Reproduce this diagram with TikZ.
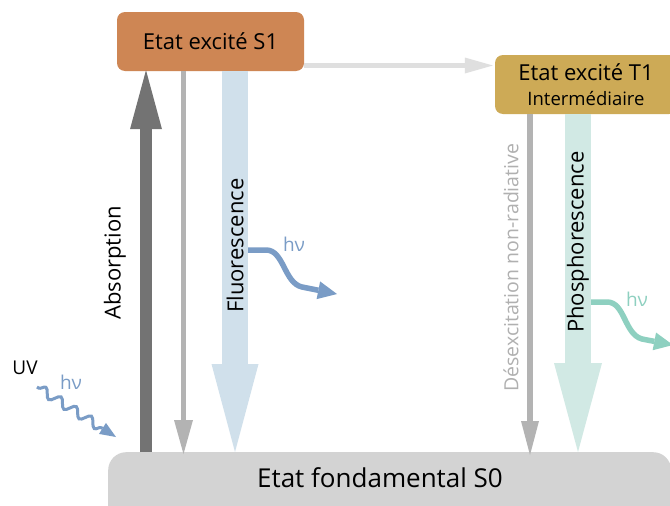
\documentclass[tikz,border=0pt]{standalone}
\usepackage{fontspec}
\setmainfont{Open Sans}
\usetikzlibrary{arrows.meta,decorations.pathmorphing}
\definecolor{sorange}{HTML}{CE8654}
\definecolor{tgold}{HTML}{CDAA56}
\definecolor{sgrey}{HTML}{D3D3D3}
\definecolor{absgrey}{HTML}{737373}
\definecolor{midgrey}{HTML}{B3B3B3}
\definecolor{lightgrey}{HTML}{DFDFDF}
\definecolor{fluoblue}{HTML}{D0E0EB}
\definecolor{phosteal}{HTML}{D1E9E4}
\definecolor{hvblue}{HTML}{7A9CC6}
\definecolor{hvteal}{HTML}{8ED0C0}
\definecolor{nrgrey}{HTML}{B0B0B0}
\tikzset{
  statebox/.style={rounded corners=8pt, inner sep=0pt, text=black},
  vlabel/.style={rotate=90, inner sep=0pt, font=\fontsize{22}{26}\selectfont},
  hvlabel/.style={inner sep=0pt, font=\fontsize{19}{22}\selectfont},
  photon/.style={line width=5.5pt, -{Triangle[length=19pt,width=18pt,line width=0pt]}}
}
\begin{document}
\begin{tikzpicture}[x=1pt,y=-1pt]
\clip (0,0) rectangle (670,506);
\fill[white] (0,0) rectangle (670,506);
% states
\node[statebox, fill=sorange, minimum width=187, minimum height=59,
      font=\fontsize{22}{26}\selectfont] (s1) at (210.5,41.5) {Etat excité S1};
\node[statebox, fill=tgold, minimum width=182, minimum height=59, align=center,
      font=\fontsize{22}{25}\selectfont]
      (t1) at (586,84.5) {Etat excité T1\\{\fontsize{18.5}{25}\selectfont Intermédiaire}};
\node[rounded corners=18pt, fill=sgrey, minimum width=563, minimum height=100,
      anchor=north west, inner sep=0pt] (s0) at (108,452) {};
\node[inner sep=0pt, font=\fontsize{26}{30}\selectfont] (s0label) at (380,478) {Etat fondamental S0};
% x positions of the vertical connectors
\coordinate (xa) at (146,0);
\coordinate (xg) at (183.5,0);
\coordinate (xf) at (235,0);
\coordinate (xn) at (530,0);
\coordinate (xp) at (578,0);
\coordinate (yh) at (0,65.5);
% S1 -> T1
\draw[lightgrey, line width=5pt, -{Triangle[length=28pt,width=16pt,line width=0pt]}]
  (s1.east |- yh) -- ([xshift=-2pt]t1.west |- yh);
% absorption
\draw[absgrey, line width=12pt, -{Triangle[length=59pt,width=32pt,line width=0pt]}]
  (xa |- s0.north) -- ([yshift=1pt]xa |- s1.south);
% non radiative S1 -> S0
\draw[midgrey, line width=5pt, -{Triangle[length=34pt,width=19pt,line width=0pt]}]
  (xg |- s1.south) -- ([yshift=-2pt]xg |- s0.north);
% fluorescence
\draw[fluoblue, line width=26pt, -{Triangle[length=88pt,width=47pt,line width=0pt]}]
  (xf |- s1.south) -- (xf |- s0.north);
% non radiative T1 -> S0
\draw[midgrey, line width=6pt, -{Triangle[length=34pt,width=18pt,line width=0pt]}]
  (xn |- t1.south) -- ([yshift=-3pt]xn |- s0.north);
% phosphorescence
\draw[phosteal, line width=26pt, -{Triangle[length=89pt,width=48pt,line width=0pt]}]
  (xp |- t1.south) -- (xp |- s0.north);
% labels
\node[vlabel] (labs) at (115,263) {Absorption};
\node[vlabel, anchor=west] (lfl) at (235,313) {Fluorescence};
\node[vlabel, anchor=west] (lph) at (578,333) {Phosphorescence};
\node[vlabel, anchor=west, text=nrgrey, font=\fontsize{19.5}{22}\selectfont] (lnr) at (511,392) {Désexcitation non-radiative};
% photons
\coordinate (fstart) at (248,250);
\coordinate (fend) at (337,294);
\draw[hvblue, photon] (fstart) -- (266,250) .. controls (284,250) and (284,283) .. (302,287) -- (fend);
\node[hvlabel, text=hvblue] (hv1) at (294,244) {hν};
\coordinate (pstart) at (591,302);
\coordinate (pend) at (673,345);
\draw[hvteal, photon] (pstart) -- (607,302) .. controls (625,302) and (624,334) .. (642,339) -- (pend);
\node[hvlabel, text=hvteal] (hv2) at (637,299) {hν};
\node[hvlabel, font=\fontsize{19}{22}\selectfont] (uv) at (25,368) {UV};
\node[hvlabel, text=hvblue] (hv3) at (71,382) {hν};
\coordinate (uvstart) at (37,387);
\coordinate (uvend) at (116,437);
\draw[hvblue, line width=3pt, decorate,
      decoration={snake, amplitude=4.5pt, segment length=18pt, pre length=2pt, post length=14pt},
      -{Triangle[length=16pt,width=13pt,line width=0pt]}] (uvstart) -- (uvend);
\end{tikzpicture}
\end{document}
